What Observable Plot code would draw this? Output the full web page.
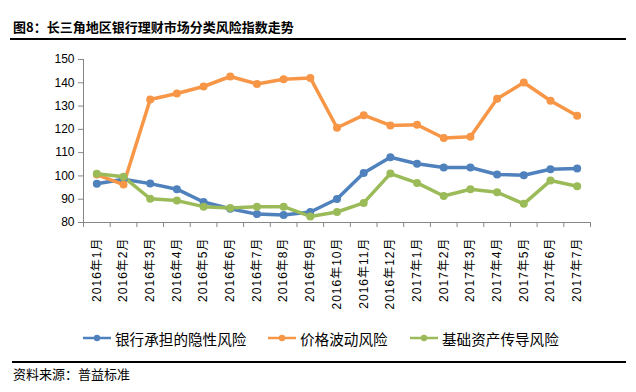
<!DOCTYPE html>
<html>
<head>
<meta charset="utf-8">
<script src="https://cdn.jsdelivr.net/npm/d3@7"></script>
<script src="https://cdn.jsdelivr.net/npm/@observablehq/plot@0.6"></script>
<style>
  html, body { margin: 0; padding: 0; background: #fff; }
  #wrap { position: relative; width: 636px; height: 392px; background: #fff; overflow: hidden;
    font-family: "Liberation Sans", Arial, "Noto Sans CJK SC", sans-serif; color: #000; }
  #title { position: absolute; left: 13px; top: 18px; font-size: 13px; font-weight: 700; line-height: 18px;
    font-family: "Noto Sans CJK SC", sans-serif; white-space: nowrap; }
  .rule { position: absolute; left: 10px; width: 616px; background: #000; }
  #chart { position: absolute; left: 0; top: 40px; }
  #chart g[aria-label="text"] text { letter-spacing: 1px; }
  .leg { position: absolute; top: 329px; height: 18px; display: flex; align-items: center; font-size: 14.6px;
    font-family: "Noto Sans CJK SC", sans-serif; white-space: nowrap; }
  .leg svg { margin-right: 4px; }
  #source { position: absolute; left: 13px; top: 366px; font-size: 13px; line-height: 16px;
    font-family: "Noto Sans CJK SC", sans-serif; white-space: nowrap; }
</style>
</head>
<body>
<div id="wrap">
  <div id="title">图8：长三角地区银行理财市场分类风险指数走势</div>
  <div class="rule" style="top:38px;height:2px;"></div>
  <div id="chart"></div>
  <div id="legend"></div>
  <div class="rule" style="top:361px;height:1.5px;left:12px;width:614px;"></div>
  <div id="source">资料来源：普益标准</div>
</div>
<script>
const months = ["2016年1月","2016年2月","2016年3月","2016年4月","2016年5月","2016年6月","2016年7月","2016年8月","2016年9月","2016年10月","2016年11月","2016年12月","2017年1月","2017年2月","2017年3月","2017年4月","2017年5月","2017年6月","2017年7月"];
const seriesNames = ["银行承担的隐性风险","价格波动风险","基础资产传导风险"];
const seriesColors = ["#4F81BD","#F79646","#9BBB59"];
const bankRisk = [96.6,98.6,96.7,94.3,88.8,85.9,83.6,83.2,84.5,90.1,101.3,108.0,105.2,103.6,103.6,100.6,100.3,102.9,103.2];
const priceRisk = [100.6,96.3,132.8,135.4,138.4,142.7,139.5,141.5,142.1,120.7,126.1,121.7,122.0,116.3,116.8,133.1,140.1,132.3,125.8];
const assetRisk = [100.9,99.6,90.2,89.4,86.8,86.2,86.8,86.8,82.6,84.5,88.4,101.0,97.0,91.4,94.3,93.0,88.0,98.0,95.6];
const yTicks = [80,90,100,110,120,130,140,150];

const seriesValues = [bankRisk, priceRisk, assetRisk];
const data = [];
seriesValues.forEach((vals, s) => vals.forEach((v, i) => data.push({series: seriesNames[s], i, month: months[i], value: v})));
const boundaries = d3.range(months.length + 1).map(k => k - 0.5);
const axisColor = "#868686";

const chart = Plot.plot({
  width: 636,
  height: 280,
  marginLeft: 83,
  marginRight: 46,
  marginTop: 19,
  marginBottom: 98,
  style: {fontFamily: "'Liberation Sans', Arial, 'Noto Sans CJK SC', sans-serif", fontSize: "12px", color: "#000", background: "transparent", overflow: "visible"},
  x: {type: "linear", domain: [-0.5, months.length - 0.5]},
  y: {domain: [80, 150]},
  color: {domain: seriesNames, range: seriesColors},
  marks: [
    Plot.axisY({ticks: yTicks, tickSize: 5, tickPadding: 4, stroke: axisColor, strokeOpacity: 1, fill: "#000", label: null, fontSize: 12}),
    Plot.axisX({ticks: boundaries, tickSize: 5, tickFormat: () => "", stroke: axisColor, strokeOpacity: 1, label: null}),
    Plot.ruleX([-0.5], {stroke: axisColor}),
    Plot.ruleY([80], {stroke: axisColor}),
    Plot.text(months, {x: (d, i) => i, y: () => 80, text: d => d, rotate: -90, textAnchor: "end", dy: 15, fontSize: 12, fill: "#000"}),
    Plot.line(data, {x: "i", y: "value", z: "series", stroke: "series", strokeWidth: 3.5, curve: "linear"}),
    Plot.dot(data, {x: "i", y: "value", fill: "series", r: 4})
  ]
});
document.getElementById("chart").appendChild(chart);

// legend
const legPos = [{sw: 83, tx: 115}, {sw: 268, tx: 300}, {sw: 410, tx: 442}];
const legend = document.getElementById("legend");
seriesNames.forEach((name, s) => {
  const item = document.createElement("div");
  item.className = "leg";
  item.style.left = legPos[s].sw + "px";
  item.innerHTML = `<svg width="28" height="10"><line x1="0" y1="5" x2="28" y2="5" stroke="${seriesColors[s]}" stroke-width="2.5"/><circle cx="14" cy="5" r="3.2" fill="${seriesColors[s]}"/></svg><span>${name}</span>`;
  legend.appendChild(item);
});
</script>
</body>
</html>
